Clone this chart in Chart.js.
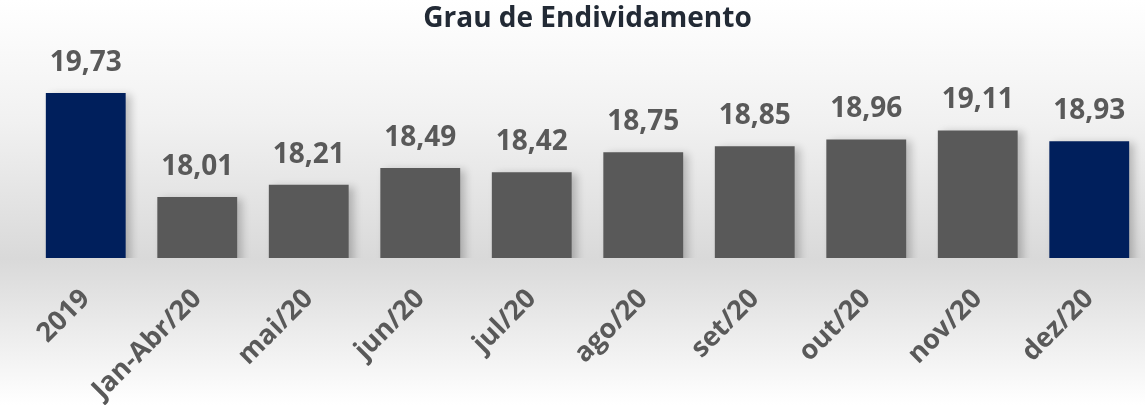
<!DOCTYPE html>
<html>
<head>
<meta charset="utf-8">
<script src="https://cdn.jsdelivr.net/npm/chart.js@4/dist/chart.umd.min.js"></script>
<style>
  html, body { margin: 0; padding: 0; background: #fff; }
  #wrap { width: 1145px; height: 405px; position: relative; }
</style>
</head>
<body>
<div id="wrap"><canvas id="chart"></canvas></div>
<script>
var categories = ['2019', 'Jan-Abr/20', 'mai/20', 'jun/20', 'jul/20', 'ago/20', 'set/20', 'out/20', 'nov/20', 'dez/20'];
var values = [19.73, 18.01, 18.21, 18.49, 18.42, 18.75, 18.85, 18.96, 19.11, 18.93];
var highlighted = ['2019', 'dez/20'];

var navy = '#001f5c';
var gray = '#595959';
var font = "'Open Sans', sans-serif";

var backgroundPlugin = {
  id: 'background',
  beforeDraw: function(chart) {
    var ctx = chart.ctx, h = chart.height, g;
    g = ctx.createLinearGradient(0, 0, 0, h);
    g.addColorStop(0, '#ffffff');
    g.addColorStop(0.3, '#f1f1f1');
    g.addColorStop(0.64, '#d9d9d9');
    g.addColorStop(1, '#ffffff');
    ctx.save();
    ctx.fillStyle = g;
    ctx.fillRect(0, 0, chart.width, h);
    ctx.restore();
  }
};

// soft shadow behind the bars
var barShadow = {
  id: 'barShadow',
  beforeDatasetsDraw: function(chart) {
    var ctx = chart.ctx;
    ctx.save();
    ctx.shadowColor = 'rgba(0,0,0,0.22)';
    ctx.shadowBlur = 8;
    ctx.shadowOffsetX = 5;
    ctx.shadowOffsetY = 2;
  },
  afterDatasetsDraw: function(chart) {
    chart.ctx.restore();
  }
};

var valueLabels = {
  id: 'valueLabels',
  afterDatasetsDraw: function(chart) {
    var ctx = chart.ctx;
    var meta = chart.getDatasetMeta(0);
    ctx.save();
    ctx.font = 'bold 28px ' + font;
    ctx.fillStyle = gray;
    ctx.textAlign = 'center';
    ctx.textBaseline = 'middle';
    meta.data.forEach(function(bar, i) {
      ctx.fillText(values[i].toFixed(2).replace('.', ','), bar.x, bar.y - 30);
    });
    ctx.restore();
  }
};

new Chart(document.getElementById('chart'), {
  type: 'bar',
  data: {
    labels: categories,
    datasets: [{
      data: values,
      backgroundColor: categories.map(function(c) {
        return highlighted.indexOf(c) >= 0 ? navy : gray;
      }),
      barPercentage: 0.716,
      categoryPercentage: 1
    }]
  },
  options: {
    responsive: true,
    maintainAspectRatio: false,
    animation: false,
    layout: { padding: { left: 30, right: 0, top: 0, bottom: 0 } },
    plugins: {
      legend: { display: false },
      tooltip: { enabled: false },
      title: {
        display: true,
        text: 'Grau de Endividamento',
        color: '#222a35',
        font: { family: font, size: 28, weight: 'bold' },
        padding: { top: 2, bottom: 41 }
      }
    },
    scales: {
      x: {
        grid: { display: false },
        border: { display: false },
        afterFit: function(scale) {
          scale.height = 147;
        },
        ticks: {
          color: gray,
          maxRotation: 45,
          minRotation: 45,
          padding: 17,
          font: { family: font, size: 27, weight: 'bold' }
        }
      },
      y: {
        display: false,
        min: 17,
        max: 20
      }
    }
  },
  plugins: [backgroundPlugin, barShadow, valueLabels]
});
</script>
</body>
</html>
